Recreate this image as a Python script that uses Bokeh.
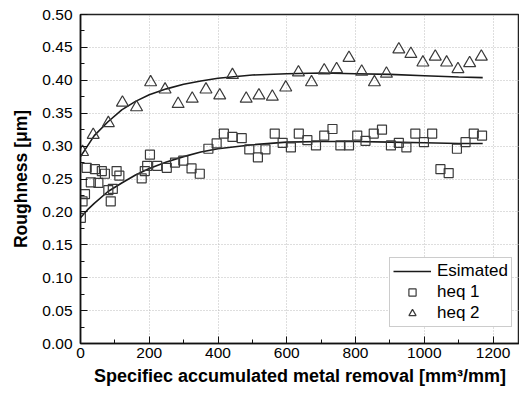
from bokeh.plotting import figure
from bokeh.models import Range1d, SingleIntervalTicker, PrintfTickFormatter, Legend, LegendItem
from bokeh.embed import file_html
from bokeh.resources import INLINE

# ---- data ----
heq1_x = [1, 6, 13, 18, 30, 42, 52, 62, 71, 81, 88, 94, 105, 113, 178, 187, 194, 202, 223, 251,
          275, 299, 323, 347, 372, 396, 417, 442, 469, 491, 516, 538, 565, 588, 612, 635, 660, 685,
          709, 733, 756, 781, 805, 829, 853, 877, 903, 926, 948, 974, 999, 1023, 1047, 1071, 1095,
          1120, 1144, 1168]
heq1_y = [0.191, 0.216, 0.227, 0.267, 0.245, 0.265, 0.244, 0.262, 0.258, 0.233, 0.216, 0.235, 0.262,
          0.255, 0.251, 0.262, 0.270, 0.287, 0.270, 0.267, 0.275, 0.278, 0.266, 0.258, 0.296, 0.304,
          0.319, 0.314, 0.312, 0.295, 0.283, 0.295, 0.319, 0.305, 0.298, 0.319, 0.309, 0.301, 0.316,
          0.326, 0.301, 0.301, 0.316, 0.308, 0.319, 0.325, 0.301, 0.305, 0.298, 0.319, 0.306, 0.319,
          0.265, 0.259, 0.296, 0.306, 0.319, 0.316]

heq2_x = [6, 37, 81, 122, 163, 204, 246, 284, 325, 365, 405, 442, 482, 519, 558, 597, 634, 672, 709,
          745, 781, 818, 855, 890, 926, 961, 996, 1032, 1065, 1098, 1132, 1166]
heq2_y = [0.291, 0.317, 0.335, 0.366, 0.359, 0.397, 0.386, 0.364, 0.372, 0.386, 0.377, 0.408, 0.372,
          0.377, 0.375, 0.389, 0.412, 0.397, 0.415, 0.417, 0.434, 0.413, 0.397, 0.410, 0.447, 0.440,
          0.427, 0.436, 0.427, 0.417, 0.426, 0.436]

est1_x = [0, 20, 40, 80, 120, 160, 200, 250, 300, 350, 400, 500, 600, 700, 800, 900, 1000, 1100, 1170]
est1_y = [0.191, 0.203, 0.213, 0.231, 0.244, 0.256, 0.266, 0.276, 0.284, 0.291, 0.296, 0.302, 0.306,
          0.307, 0.307, 0.306, 0.305, 0.304, 0.304]

est2_x = [0, 40, 80, 120, 160, 200, 250, 300, 350, 400, 500, 600, 700, 800, 900, 1000, 1100, 1170]
est2_y = [0.284, 0.316, 0.337, 0.355, 0.368, 0.378, 0.387, 0.394, 0.399, 0.403, 0.408, 0.410, 0.411,
          0.410, 0.409, 0.407, 0.405, 0.404]

x_label = "Specifiec accumulated metal removal [mm\u00b3/mm]"
y_label = "Roughness [\u03bcm]"

FONT = "Liberation Sans"

p = figure(width=519, height=390, x_range=Range1d(0, 1277), y_range=Range1d(0, 0.5),
           output_backend="svg", toolbar_location=None,
           min_border_left=80, min_border_right=0, min_border_top=14, min_border_bottom=47)

p.background_fill_color = "white"
p.border_fill_color = "white"
p.outline_line_color = "#222222"
p.outline_line_width = 1.5

p.xaxis.ticker = SingleIntervalTicker(interval=200, num_minor_ticks=2)
p.yaxis.ticker = SingleIntervalTicker(interval=0.05, num_minor_ticks=2)
p.yaxis.formatter = PrintfTickFormatter(format="%.2f")

for ax in (p.xaxis[0], p.yaxis[0]):
    ax.major_tick_in = 7
    ax.major_tick_out = 0
    ax.minor_tick_in = 4
    ax.minor_tick_out = 0
    ax.major_tick_line_color = "#111111"
    ax.minor_tick_line_color = "#111111"
    ax.axis_line_color = "#111111"
    ax.axis_line_width = 1.5
    ax.major_label_text_font = FONT
    ax.major_label_text_font_size = "15.5px"
    ax.major_label_text_color = "black"
    ax.axis_label_text_font = FONT
    ax.axis_label_text_font_style = "bold"
    ax.axis_label_text_color = "black"

p.xaxis.axis_label = x_label
p.xaxis.axis_label_text_font_size = "18px"
p.xaxis.major_label_standoff = 4
p.xaxis.axis_label_standoff = 5
p.yaxis.axis_label = y_label
p.yaxis.axis_label_text_font_size = "17.5px"
p.yaxis.major_label_standoff = 8
p.yaxis.axis_label_standoff = 8

p.xgrid.grid_line_color = "#bdbdbd"
p.ygrid.grid_line_color = "#bdbdbd"
p.xgrid.grid_line_dash = "1 2"
p.ygrid.grid_line_dash = "1 2"
p.xgrid.grid_line_width = 1
p.ygrid.grid_line_width = 1

l1 = p.line(est1_x, est1_y, line_color="#1a1a1a", line_width=1.6)
l2 = p.line(est2_x, est2_y, line_color="#1a1a1a", line_width=1.6)
s1 = p.scatter(heq1_x, heq1_y, marker="square", size=9, fill_alpha=0,
               line_color="#3a3a3a", line_width=1.2)
s2 = p.scatter(heq2_x, heq2_y, marker="triangle", size=12, fill_alpha=0,
               line_color="#3a3a3a", line_width=1.2)

legend = Legend(items=[LegendItem(label="Esimated", renderers=[l1]),
                       LegendItem(label="heq 1", renderers=[s1]),
                       LegendItem(label="heq 2", renderers=[s2])],
                location=(309, 16))
legend.label_text_font = FONT
legend.label_text_font_size = "17px"
legend.label_text_color = "black"
legend.label_height = 18
legend.glyph_height = 18
legend.glyph_width = 38
legend.spacing = 1
legend.padding = 3
legend.margin = 0
legend.label_standoff = 6
legend.border_line_color = "#999999"
legend.border_line_width = 1
legend.background_fill_color = "white"
legend.background_fill_alpha = 1
p.add_layout(legend, "center")

open("out.html", "w").write(file_html(p, INLINE))
